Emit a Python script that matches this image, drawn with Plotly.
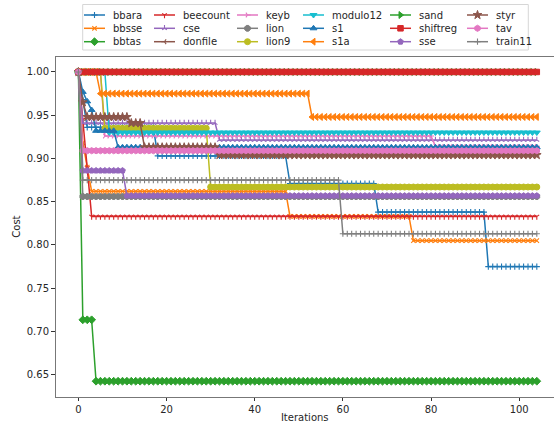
import plotly.graph_objects as go

N_ITER = 105  # iterations 0..104

# Each run is stored as steps: (first iteration, cost held from there on)
bbara = [(0, 1.000), (1, 0.968), (2, 0.936), (18, 0.903), (48, 0.871), (68, 0.838), (93, 0.775)]
bbsse = [(0, 1.000), (1, 0.918), (2, 0.890), (3, 0.862), (48, 0.833), (76, 0.805)]
bbtas = [(0, 1.000), (1, 0.7135), (4, 0.6425)]
beecount = [(0, 1.000), (1, 0.945), (2, 0.889), (3, 0.833)]
cse = [(0, 1.000), (1, 0.941), (32, 0.9215)]
donfile = [(0, 1.000), (1, 0.909)]
keyb = [(0, 1.000), (6, 0.926), (81, 0.914)]
lion = [(0, 1.000), (1, 0.856)]
lion9 = [(0, 1.000), (6, 0.935), (30, 0.867)]
modulo12 = [(0, 1.000), (7, 0.930)]
s1 = [(0, 1.000), (1, 0.977), (2, 0.966), (3, 0.956), (4, 0.932), (9, 0.913)]
s1a = [(0, 1.000), (5, 0.975), (53, 0.948)]
sand = [(0, 1.000)]
shiftreg = [(0, 1.000)]
sse = [(0, 1.000), (1, 0.886), (11, 0.857)]
styr = [(0, 1.000), (1, 0.965), (2, 0.948), (12, 0.941), (15, 0.913), (32, 0.904)]
tav = [(0, 1.000), (1, 0.909)]
train11 = [(0, 1.000), (1, 0.875), (60, 0.813)]

names = ["bbara", "bbsse", "bbtas", "beecount", "cse", "donfile", "keyb", "lion",
         "lion9", "modulo12", "s1", "s1a", "sand", "shiftreg", "sse", "styr", "tav", "train11"]
runs = [bbara, bbsse, bbtas, beecount, cse, donfile, keyb, lion,
        lion9, modulo12, s1, s1a, sand, shiftreg, sse, styr, tav, train11]

x_ticks = [0, 20, 40, 60, 80, 100]
y_ticks = [0.65, 0.70, 0.75, 0.80, 0.85, 0.90, 0.95, 1.00]

# styling
tab10 = ["#1f77b4", "#ff7f0e", "#2ca02c", "#d62728", "#9467bd",
         "#8c564b", "#e377c2", "#7f7f7f", "#bcbd22", "#17becf"]
symbols = ["cross-thin", "x-thin", "diamond", "y-down", "y-up", "y-left", "y-right", "octagon",
           "circle", "triangle-down", "triangle-up", "triangle-left", "triangle-right", "square",
           "pentagon", "star", "hexagon", "cross-thin"]
thin_sizes = {"cross-thin": 4.4, "x-thin": 4.4, "y-down": 4, "y-up": 4, "y-left": 4, "y-right": 4}
filled_sizes = {"diamond": 6, "square": 5.5, "star": 6.5, "pentagon": 6, "hexagon": 6.2,
                "octagon": 6.2}
FONT = "DejaVu Sans"
TXT = "#262626"
W, H = 554, 423


def expand(steps):
    vals = []
    for k, (start, cost) in enumerate(steps):
        end = steps[k + 1][0] if k + 1 < len(steps) else N_ITER
        vals.extend([cost] * (end - start))
    return vals


def marker_style(i):
    sym = symbols[i]
    col = tab10[i % 10]
    if sym in thin_sizes:
        return dict(symbol=sym, size=thin_sizes[sym], color=col, line=dict(color=col, width=1.1))
    return dict(symbol=sym, size=filled_sizes.get(sym, 6), color=col, line=dict(color=col, width=1))


iterations = list(range(N_ITER))
fig = go.Figure()

for i, (name, steps) in enumerate(zip(names, runs)):
    fig.add_trace(go.Scatter(
        x=iterations, y=expand(steps), name=name, mode="lines+markers",
        line=dict(color=tab10[i % 10], width=1.5),
        marker=marker_style(i), showlegend=False,
    ))

# legend block drawn on a pixel-space overlay axis (3 rows, filled column by column)
col_x = [84, 154, 237, 303, 390, 467]
row_y = [15, 28.3, 41.7]
annotations = []
for i, name in enumerate(names):
    lx = col_x[i // 3]
    ly = row_y[i % 3]
    m = marker_style(i)
    m["opacity"] = [0, 1, 0]
    fig.add_trace(go.Scatter(
        x=[lx, lx + 10.5, lx + 21], y=[ly, ly, ly], mode="lines+markers",
        line=dict(color=tab10[i % 10], width=1.5), marker=m,
        xaxis="x2", yaxis="y2", showlegend=False, hoverinfo="skip",
    ))
    annotations.append(dict(
        x=lx + 27, y=ly, xref="x2", yref="y2", text=name, showarrow=False,
        xanchor="left", yanchor="middle", font=dict(family=FONT, size=10, color=TXT),
    ))

fig.update_layout(
    width=W, height=H,
    margin=dict(l=0, r=0, t=0, b=0),
    paper_bgcolor="white", plot_bgcolor="rgba(0,0,0,0)",
    font=dict(family=FONT, size=10, color=TXT),
    showlegend=False,
    annotations=annotations,
    shapes=[dict(type="rect", xref="x2", yref="y2", x0=82.7, x1=528.3, y0=4.5, y1=50,
                 line=dict(color="#d6d6d6", width=1), fillcolor="white", layer="below")],
    xaxis=dict(
        domain=[55.5 / W, 1.0], range=[-5.2, 107.9], anchor="y",
        tickvals=x_ticks, ticks="outside", ticklen=3.5, tickwidth=0.8, tickcolor="#333",
        showline=True, linecolor="#777", linewidth=1, mirror=True,
        showgrid=False, zeroline=False, automargin=False,
        tickfont=dict(family=FONT, size=10, color=TXT),
        title=dict(text="Iterations", font=dict(family=FONT, size=10, color=TXT), standoff=2),
    ),
    yaxis=dict(
        domain=[(H - 396.7) / H, (H - 56.5) / H], range=[0.6246, 1.0179], anchor="x",
        tickvals=y_ticks, tickformat=".2f", ticks="outside", ticklen=3.5, tickwidth=0.8,
        tickcolor="#333", showline=True, linecolor="#777", linewidth=1,
        showgrid=False, zeroline=False, automargin=False,
        tickfont=dict(family=FONT, size=10, color=TXT),
        title=dict(text="Cost", font=dict(family=FONT, size=10, color=TXT), standoff=4),
    ),
    xaxis2=dict(domain=[0, 1], range=[0, W], visible=False, anchor="y2", fixedrange=True),
    yaxis2=dict(domain=[0, 1], range=[H, 0], visible=False, anchor="x2", fixedrange=True),
)

fig.write_html("out.html")
